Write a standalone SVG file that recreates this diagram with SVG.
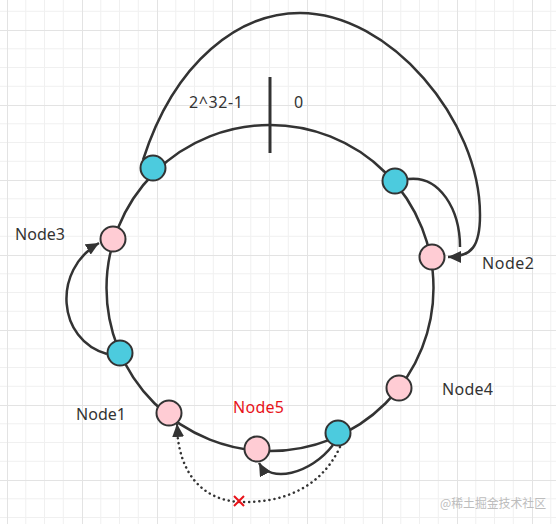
<svg xmlns="http://www.w3.org/2000/svg" width="556" height="524" viewBox="0 0 556 524">
<style>
.ring{fill:none;stroke:#333;stroke-width:2.5}
.cyan{fill:#4ccbde;stroke:#333;stroke-width:2}
.pink{fill:#ffccd4;stroke:#333;stroke-width:2}
.edge{fill:none;stroke:#333;stroke-width:2.5}
.dot{fill:none;stroke:#333;stroke-width:2.5;stroke-dasharray:0.1 5;stroke-linecap:round}
.lbl{font-family:"Noto Sans","Open Sans","Liberation Sans",sans-serif;font-size:16px;fill:#333}
.red{fill:#e8131a}
.wm{font-family:"Noto Sans CJK SC","Noto Sans",sans-serif;font-size:12.5px;fill:#bdbdbd}
</style>
<defs>
<pattern id="grid" x="7" y="30" width="75" height="75" patternUnits="userSpaceOnUse">
<path d="M18.75 0V75M37.5 0V75M56.25 0V75M0 18.75H75M0 37.5H75M0 56.25H75" stroke="#f0f0f0" stroke-width="1" fill="none"/>
<path d="M0.5 0V75M0 0.5H75" stroke="#e3e3e3" stroke-width="1" fill="none"/>
</pattern>
<marker id="arr" markerWidth="14" markerHeight="12" refX="13" refY="6" orient="auto" markerUnits="userSpaceOnUse">
<path d="M0,0 L13,6 L0,12 z" fill="#333"/>
</marker>
</defs>
<rect width="556" height="524" fill="#fff"/>
<rect width="556" height="524" fill="url(#grid)"/>

<g id="ring">
<ellipse class="ring" cx="270" cy="288" rx="163.5" ry="163"/>
<line x1="270" y1="77" x2="270" y2="153" stroke="#333" stroke-width="3"/>
</g>

<g id="connectors">
<path class="edge" d="M143,160 C175,60 240,13 300,13 C390,13 480,120 480,215 C480,246 472,257 448,257" marker-end="url(#arr)"/>
<path class="edge" d="M408,179 C440,175 460,210 460,247"/>
<path class="edge" d="M107,354 C57,340 52,270 99,243" marker-end="url(#arr)"/>
<path class="edge" d="M333,445 C310,475 270,483 259,463" marker-end="url(#arr)"/>
<path class="dot" d="M340,447 C320,490 280,503 240,502 C200,500 178,470 177,426"/>
<path d="M178,436 L177,424" fill="none" stroke="#333" stroke-width="2" marker-end="url(#arr)"/>
<path d="M234,496 L244,506 M244,496 L234,506" stroke="#e8131a" stroke-width="2"/>
</g>

<g id="node-c1"><circle class="cyan" cx="153" cy="168" r="12.5"/></g>
<g id="node-c2"><circle class="cyan" cx="395" cy="181" r="12.5"/></g>
<g id="node-c3"><circle class="cyan" cx="120" cy="353" r="12.5"/></g>
<g id="node-c4"><circle class="cyan" cx="338" cy="433" r="12.5"/></g>
<g id="node3"><circle class="pink" cx="113" cy="239" r="12.5"/><text class="lbl" x="15" y="240" textLength="50" lengthAdjust="spacing">Node3</text></g>
<g id="node2"><circle class="pink" cx="432" cy="257" r="12.5"/><text class="lbl" x="482" y="269" textLength="52" lengthAdjust="spacing">Node2</text></g>
<g id="node4"><circle class="pink" cx="399" cy="388" r="12.5"/><text class="lbl" x="442" y="395" textLength="51" lengthAdjust="spacing">Node4</text></g>
<g id="node1"><circle class="pink" cx="169" cy="413" r="12.5"/><text class="lbl" x="76" y="420" textLength="50" lengthAdjust="spacing">Node1</text></g>
<g id="node5"><circle class="pink" cx="257" cy="449" r="12.5"/><text class="lbl red" x="233" y="413" textLength="51" lengthAdjust="spacing">Node5</text></g>

<g id="labels">
<text class="lbl" x="189" y="108" font-size="15" textLength="54" lengthAdjust="spacing">2^32-1</text>
<text class="lbl" x="294" y="108" font-size="15">0</text>
<text class="wm" x="440" y="508" textLength="106" lengthAdjust="spacingAndGlyphs">@稀土掘金技术社区</text>
</g>
</svg>
